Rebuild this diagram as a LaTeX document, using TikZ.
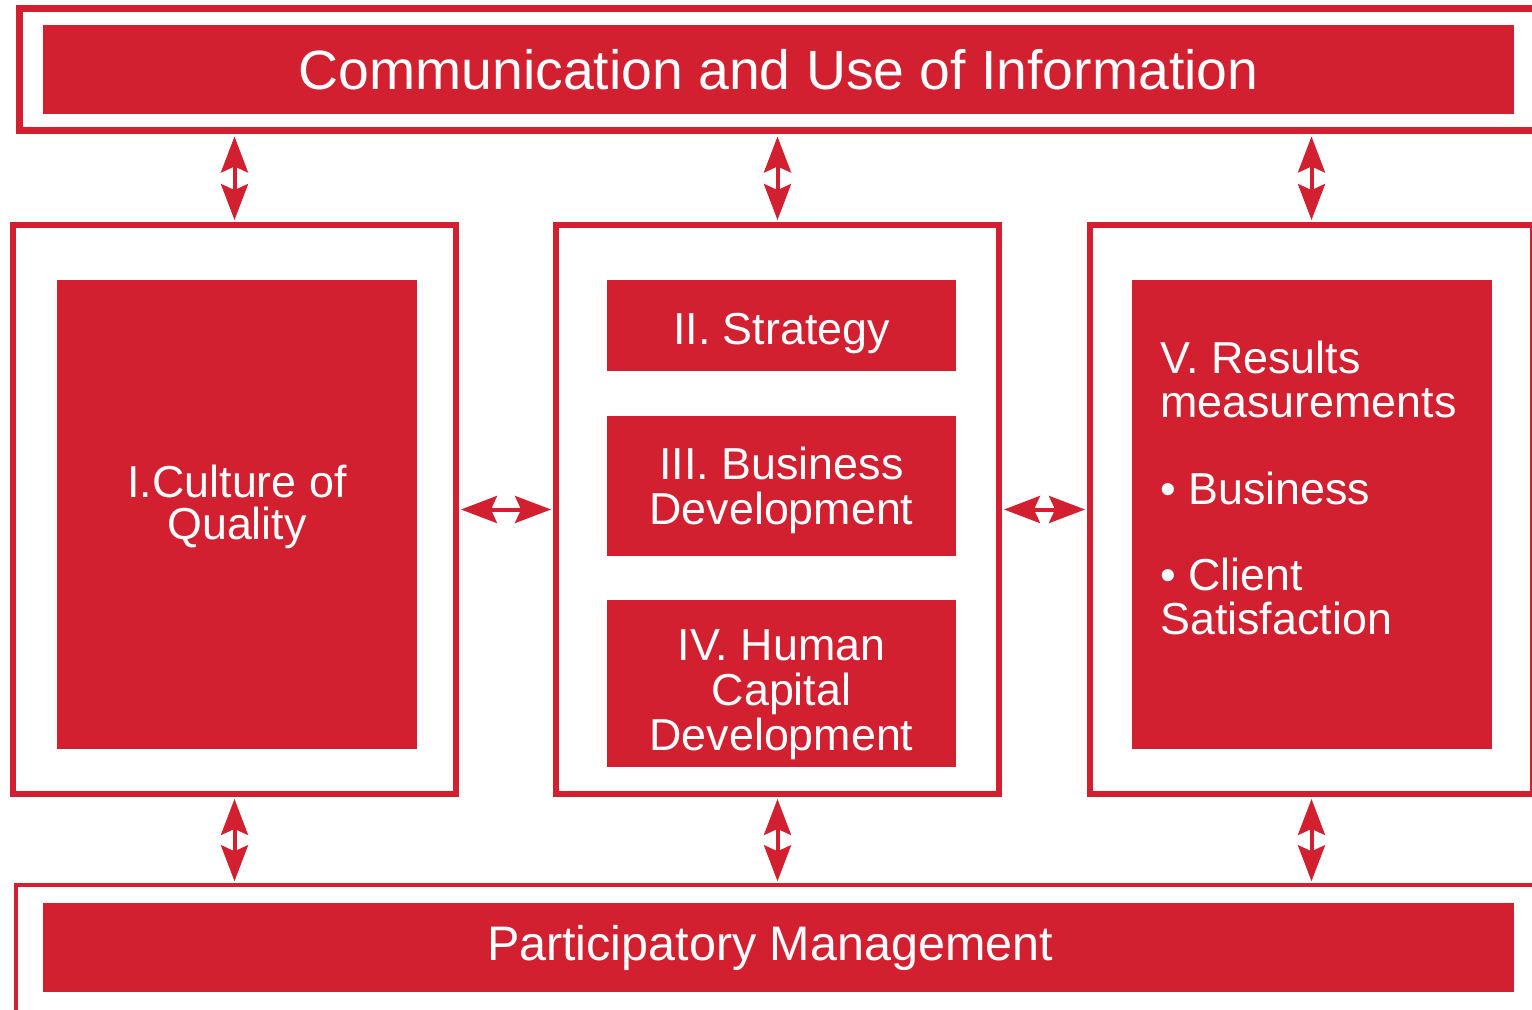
\documentclass[tikz,border=0pt]{standalone}
\usepackage{fontspec}
\setmainfont{Liberation Sans}
\usetikzlibrary{positioning}
\usetikzlibrary{arrows.meta}
\definecolor{color-red}{RGB}{210,32,48}

\begin{document}
\begin{tikzpicture}[x=0.02cm, y=-0.02cm,
frame/.style={draw=color-red, line width=0.12cm, inner sep=0, minimum width=8.86cm, minimum height=11.38cm},
outer/.style={draw=color-red, inner sep=0},
bar/.style={fill=color-red, inner sep=0, text=white, align=center},
midbar/.style={bar, minimum width=6.98cm},
dblarrow/.style={color-red, line width=0.08cm, {Stealth[length=0.72cm, width=0.54cm, inset=0.12cm]}-{Stealth[length=0.72cm, width=0.54cm, inset=0.12cm]}, shorten <=0.04cm, shorten >=0.04cm},
bigtxt/.style={font=\fontsize{31.5}{34}\selectfont},
boxtxt/.style={font=\fontsize{25.5}{25.5}\selectfont}]
\useasboundingbox (0,0) rectangle (1532,1010);
\clip (0,0) rectangle (1532,1010);

% top and bottom frames
\node [outer, line width=0.14cm, minimum width=30.35cm, minimum height=2.46cm] (topframe) at (778.25,69.5) {};
\node [bar, bigtxt, minimum width=29.42cm, minimum height=1.78cm] (comm) at (778.5,69.5) {Communication and Use of Information};
\node [outer, line width=0.07cm, minimum width=30.42cm, minimum height=3cm] (botframe) at (776.5,960) {};
\node [bar, font=\fontsize{27.6}{30}\selectfont, minimum width=29.42cm, minimum height=1.78cm] (partic) at (778.5,947.5) {\hspace*{-0.34cm}Participatory Management};

% three boxes
\node [frame] (leftbox) at (234.5,509.5) {};
\node [frame] (midbox) at (777.5,509.5) {};
\node [frame] (rightbox) at (1311.5,509.5) {};

% left
\node [bar, font=\fontsize{25.5}{23.8}\selectfont, minimum width=7.2cm, minimum height=9.38cm, text depth=0.5cm] (culture) at (237,514.5) {I.Culture of\\Quality};
% middle
\node [midbar, boxtxt, minimum height=1.82cm, text height=22pt, text depth=0pt] (strategy) at (781.5,325.5) {II. Strategy};
\node [midbar, boxtxt, minimum height=2.8cm, text depth=0pt] (business) at (781.5,486) {III. Business\\Development};
\node [midbar, boxtxt, minimum height=3.34cm, text height=76pt, text depth=0pt] (human) at (781.5,683.5) {IV. Human\\Capital\\Development};
% right
\node [bar, minimum width=7.2cm, minimum height=9.38cm] (results) at (1312,514.5) {};
\node [anchor=north west, inner sep=0, text=white, align=left, font=\fontsize{25.5}{24.7}\selectfont] (restext) at (1160,341)
  {V. Results\\measurements\\[24.7pt]\textbullet{} Business\\[24.7pt]\textbullet{} Client\\Satisfaction};

% arrows
\draw [dblarrow] (leftbox.north |- topframe.south) -- (leftbox.north);
\draw [dblarrow] (midbox.north |- topframe.south) -- (midbox.north);
\draw [dblarrow] (rightbox.north |- topframe.south) -- (rightbox.north);
\draw [dblarrow] (leftbox.south) -- (leftbox.south |- botframe.north);
\draw [dblarrow] (midbox.south) -- (midbox.south |- botframe.north);
\draw [dblarrow] (rightbox.south) -- (rightbox.south |- botframe.north);
\draw [dblarrow] (leftbox.east) -- (midbox.west);
\draw [dblarrow] (midbox.east) -- (rightbox.west);

\end{tikzpicture}
\end{document}
